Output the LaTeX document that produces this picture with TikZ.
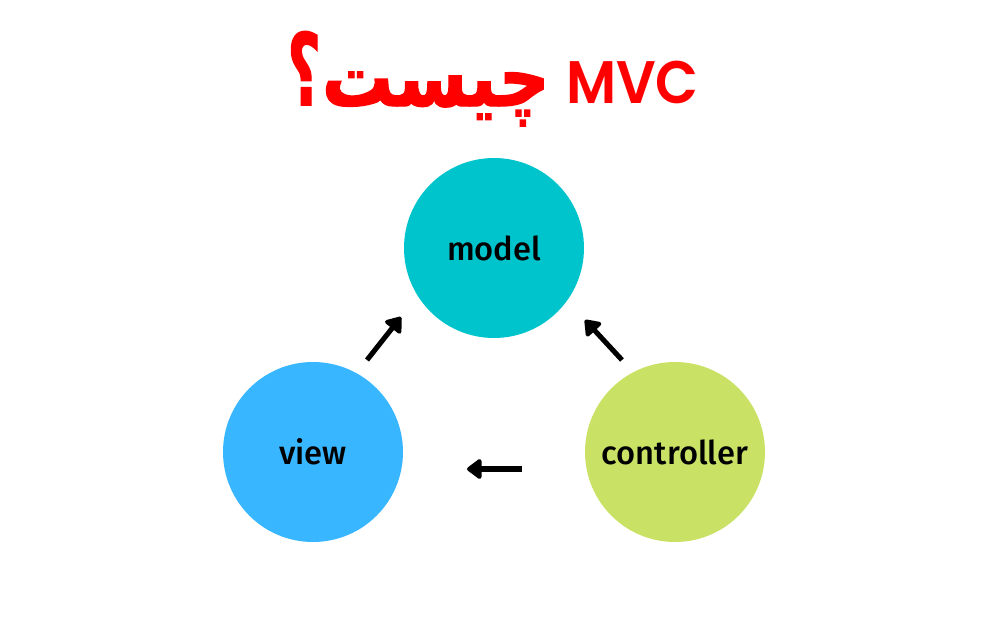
\documentclass[tikz,border=0pt]{standalone}
\usepackage{fontspec}
\setmainfont{Fira Sans}[BoldFont={Fira Sans Medium}]
\newfontfamily\titlefont{Poppins SemiBold}
\newfontfamily\arabicfont[Script=Arabic,BoldFeatures={FakeBold=1.6}]{DejaVu Sans}
\TeXXeTstate=1
\usetikzlibrary{arrows.meta}
\definecolor{modelcol}{HTML}{00C4CC}
\definecolor{viewcol}{HTML}{38B6FF}
\definecolor{ctrlcol}{HTML}{C9E265}
\definecolor{titlecol}{HTML}{FF0000}
\newcommand\PN[1]{\raisebox{-1.5pt}{#1}}
\tikzset{
  part/.style={circle, minimum size=135pt, inner sep=0pt, font=\fontsize{24.5}{24}\selectfont\bfseries},
  flow/.style={-{Triangle[length=12pt,width=17pt,round]}, line width=3.8pt, black},
  title/.style={text=titlecol, inner sep=0pt},
  persian/.style={title, font=\arabicfont\fontsize{62}{62}\selectfont\bfseries, anchor=base east, transform shape},
}

\begin{document}
\begin{tikzpicture}[x=0.75pt, y=-0.75pt]

  \useasboundingbox (0, 0) rectangle (1000, 625);

  \node[title, font=\titlefont\fontsize{45}{45}\selectfont, anchor=base east, xscale=.93, transform shape] (mvc) at (699, 103) {MVC};
  \node[persian, xscale=.86] (what) at (550, 106) {\beginR چیست\endR};
  \node[persian, xscale=.7, yscale=1.2] (mark) at (321, 105) {\beginR ؟\endR};

  \node[part, fill=modelcol] (model) at (494, 248) {\PN{model}};
  \node[part, fill=viewcol] (view) at (313, 452) {\PN{view}};
  \node[part, fill=ctrlcol] (controller) at (675, 452) {\PN{controller}};

  \coordinate (viewout) at (367, 360);
  \coordinate (viewin) at (401, 317);
  \coordinate (ctrlout) at (622, 360);
  \coordinate (ctrlin) at (585, 320);
  \coordinate (backout) at (522, 469);
  \coordinate (backin) at (467, 469);

  \draw[flow] (viewout) -- (viewin); % view->model
  \draw[flow] (ctrlout) -- (ctrlin); % controller->model
  \draw[flow] (backout) -- (backin); % controller->view

\end{tikzpicture}
\end{document}
